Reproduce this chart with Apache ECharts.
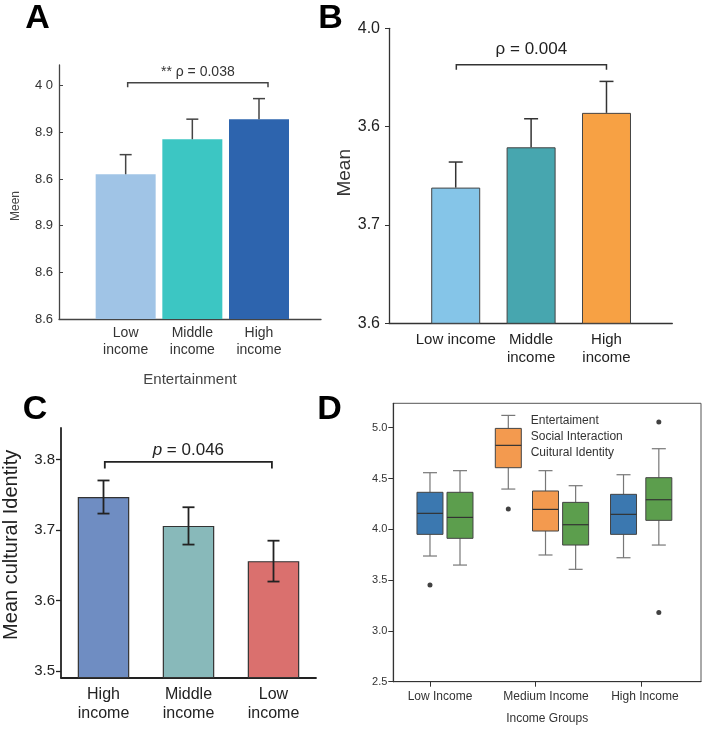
<!DOCTYPE html>
<html>
<head>
<meta charset="utf-8">
<script src="https://cdn.jsdelivr.net/npm/echarts@6/dist/echarts.min.js"></script>
<style>
html,body{margin:0;padding:0;background:#fff}
#c{width:708px;height:730px}
</style>
</head>
<body>
<div id="c"></div>
<script>
// ---------- Panel A ----------
const aCategories = ['Low\nincome', 'Middle\nincome', 'High\nincome'];
const aMeans = [3.81, 3.885, 3.928];
const aErrors = [0.042, 0.043, 0.044];
const aTickValues = [3.5, 3.6, 3.7, 3.8, 3.9, 4.0];
const aTickLabels = ['8.6', '8.6', '8.9', '8.6', '8.9', '4 0'];
const aBracket = [0, 2, 4.006];
const aPText = '** \u03c1 = 0.038';

// ---------- Panel B ----------
const bCategories = ['Low income', 'Middle\nincome', 'High\nincome'];
const bMeans = [3.838, 3.879, 3.914];
const bErrors = [0.026, 0.029, 0.032];
const bTickValues = [3.7, 3.8, 3.9, 4.0];
const bTickLabels = ['3.6', '3.7', '3.6', '4.0'];
const bBracket = [0, 2, 3.963];
const bPText = '\u03c1 = 0.004';

// ---------- Panel C ----------
const cCategories = ['High\nincome', 'Middle\nincome', 'Low\nincome'];
const cMeans = [3.747, 3.706, 3.656];
const cErrors = [0.0235, 0.0265, 0.029];
const cTickValues = [3.5, 3.6, 3.7, 3.8];
const cBracket = [0, 2, 3.797];
const cPValue = '0.046';

// ---------- Panel D ----------
const dGroups = ['Low Income', 'Medium Income', 'High Income'];
const dSeriesNames = ['Entertaiment', 'Social Interaction', 'Cuitural Identity'];
// [group index, min, Q1, median, Q3, max]
const dEntBoxes = [[0, 3.737, 3.950, 4.157, 4.364, 4.557], [2, 3.720, 3.950, 4.147, 4.344, 4.537]];
const dSocBoxes = [[1, 4.396, 4.606, 4.826, 4.993, 5.121], [1, 3.747, 3.983, 4.196, 4.377, 4.577]];
const dCulBoxes = [[0, 3.648, 3.911, 4.117, 4.364, 4.577], [1, 3.606, 3.845, 4.045, 4.265, 4.429], [2, 3.845, 4.088, 4.291, 4.508, 4.793]];
// [box index within series, value]
const dEntOutliers = [[0, 3.451]];
const dSocOutliers = [[0, 4.199]];
const dCulOutliers = [[2, 5.056], [2, 3.182]];
const dTickValues = [2.5, 3.0, 3.5, 4.0, 4.5, 5.0];

// ---------- layout / style ----------
const FONT = 'Liberation Sans, Arial, Helvetica, sans-serif';
const aColors = ['#A0C4E6', '#3CC6C3', '#2D64AE'];
const bColors = ['#85C5E8', '#47A6AF', '#F7A144'];
const cColors = ['#6F8DC2', '#88B9BA', '#DA706E'];
const dColors = ['#3B78B0', '#F39A4F', '#5C9E4D'];
const dOffsets = [[0, -0.169], [-0.259, 0.093], [0.284, 0.378, 0.165]];
const dLabelAt = [0.095, 1.098, 2.033];

function labelFrom(values, labels) {
  return function (v) {
    const i = values.findIndex(t => Math.abs(t - v) < 1e-6);
    return i < 0 ? '' : labels[i];
  };
}

function errRender(capW, twoSided, color, lw) {
  return function (params, api) {
    const x = api.value(0), lo = api.value(1), hi = api.value(2);
    const pLo = api.coord([x, lo]), pHi = api.coord([x, hi]);
    const h = capW / 2;
    const st = { stroke: color, lineWidth: lw };
    const children = [
      { type: 'line', shape: { x1: pLo[0], y1: pLo[1], x2: pHi[0], y2: pHi[1] }, style: st },
      { type: 'line', shape: { x1: pHi[0] - h, y1: pHi[1], x2: pHi[0] + h, y2: pHi[1] }, style: st }
    ];
    if (twoSided) {
      children.push({ type: 'line', shape: { x1: pLo[0] - h, y1: pLo[1], x2: pLo[0] + h, y2: pLo[1] }, style: st });
    }
    return { type: 'group', children: children };
  };
}

// whisker/box drawn per item, caps half the box width
function boxRender(color) {
  return function (params, api) {
    const x = api.value(0);
    const pMin = api.coord([x, api.value(1)]);
    const pQ1 = api.coord([x, api.value(2)]);
    const pMed = api.coord([x, api.value(3)]);
    const pQ3 = api.coord([x, api.value(4)]);
    const pMax = api.coord([x, api.value(5)]);
    const hw = 13, cw = 7;
    const wh = { stroke: '#777', lineWidth: 1.2 };
    return {
      type: 'group',
      children: [
        { type: 'line', shape: { x1: pQ3[0], y1: pQ3[1], x2: pMax[0], y2: pMax[1] }, style: wh },
        { type: 'line', shape: { x1: pMax[0] - cw, y1: pMax[1], x2: pMax[0] + cw, y2: pMax[1] }, style: wh },
        { type: 'line', shape: { x1: pQ1[0], y1: pQ1[1], x2: pMin[0], y2: pMin[1] }, style: wh },
        { type: 'line', shape: { x1: pMin[0] - cw, y1: pMin[1], x2: pMin[0] + cw, y2: pMin[1] }, style: wh },
        { type: 'rect', shape: { x: pQ3[0] - hw, y: pQ3[1], width: 2 * hw, height: pQ1[1] - pQ3[1] },
          style: { fill: color, stroke: '#444', lineWidth: 1 } },
        { type: 'line', shape: { x1: pMed[0] - hw, y1: pMed[1], x2: pMed[0] + hw, y2: pMed[1] }, style: { stroke: '#333', lineWidth: 1.2 } }
      ]
    };
  };
}

function bracketRender(o) {
  return function (params, api) {
    const x1 = api.value(0), x2 = api.value(1), y = api.value(2);
    const p1 = api.coord([x1, y]), p2 = api.coord([x2, y]);
    const a = p1[0] + o.insetL, b = p2[0] + o.insetR, yy = p1[1];
    const textStyle = {
      text: o.text, x: (a + b) / 2, y: yy - o.textGap,
      align: 'center', verticalAlign: 'middle',
      fontSize: o.fontSize, fontFamily: FONT, fill: o.textColor
    };
    if (o.rich) textStyle.rich = o.rich;
    return {
      type: 'group',
      children: [
        { type: 'polyline', shape: { points: [[a, yy + o.drop], [a, yy], [b, yy], [b, yy + o.drop]] },
          style: { stroke: o.color, lineWidth: o.lw, fill: null } },
        { type: 'text', style: textStyle }
      ]
    };
  };
}

const chart = echarts.init(document.getElementById('c'));

const grids = [
  { left: 59, top: 65, width: 262, height: 254 },
  { left: 389, top: 28.3, width: 283.3, height: 295 },
  { left: 60, top: 428, width: 256, height: 249.7 },
  { left: 393.3, top: 403.3, width: 307.7, height: 278.4, show: true, borderColor: '#555', borderWidth: 1 }
];

const option = {
  animation: false,
  backgroundColor: '#fff',
  textStyle: { fontFamily: FONT },
  graphic: [
    { type: 'text', style: { text: 'A', x: 37.5, y: 19, align: 'center', verticalAlign: 'middle', font: 'bold 34px ' + FONT, fill: '#000' } },
    { type: 'text', style: { text: 'B', x: 330.5, y: 19, align: 'center', verticalAlign: 'middle', font: 'bold 34px ' + FONT, fill: '#000' } },
    { type: 'text', style: { text: 'C', x: 35, y: 410, align: 'center', verticalAlign: 'middle', font: 'bold 34px ' + FONT, fill: '#000' } },
    { type: 'text', style: { text: 'D', x: 329.5, y: 410, align: 'center', verticalAlign: 'middle', font: 'bold 34px ' + FONT, fill: '#000' } }
  ],
  legend: {
    data: dSeriesNames, orient: 'vertical', left: 511.7, top: 414.5, padding: 0,
    itemWidth: 14, itemHeight: 12, itemGap: 4.3, selectedMode: false,
    itemStyle: { opacity: 0 }, lineStyle: { opacity: 0 },
    textStyle: { fontSize: 12, color: '#333', fontFamily: FONT }
  },
  grid: grids,
  xAxis: [
    { gridIndex: 0, type: 'value', min: -1, max: 2.93,
      axisLine: { show: true, onZero: false, lineStyle: { color: '#444', width: 1.3 } },
      axisTick: { show: false }, splitLine: { show: false },
      axisLabel: { customValues: [0, 1, 2], formatter: v => aCategories[Math.round(v)], fontSize: 14, color: '#333', lineHeight: 17, margin: 6 },
      name: 'Entertainment', nameLocation: 'middle', nameGap: 53.5,
      nameTextStyle: { fontSize: 15, color: '#444' } },
    { gridIndex: 1, type: 'value', min: -0.885, max: 2.873,
      axisLine: { show: true, onZero: false, lineStyle: { color: '#333', width: 1.3 } },
      axisTick: { show: false }, splitLine: { show: false },
      axisLabel: { customValues: [0, 1, 2], formatter: v => bCategories[Math.round(v)], fontSize: 15, color: '#222', lineHeight: 17.5, margin: 8 } },
    { gridIndex: 2, type: 'category', data: cCategories, boundaryGap: true,
      axisLine: { show: true, onZero: false, lineStyle: { color: '#222', width: 1.8 } },
      axisTick: { show: false },
      axisLabel: { fontSize: 16, color: '#222', lineHeight: 18.5, margin: 8, interval: 0 } },
    { gridIndex: 3, type: 'value', min: -0.347, max: 2.564, splitLine: { show: false },
      axisLine: { show: true, onZero: false, lineStyle: { color: '#333', width: 1.2 } },
      axisTick: { show: true, customValues: [0, 1, 2], length: 5, lineStyle: { color: '#333' } },
      axisLabel: { customValues: dLabelAt, formatter: v => dGroups[Math.round(v)], fontSize: 12, color: '#333', margin: 9 },
      name: 'Income Groups', nameLocation: 'middle', nameGap: 30.6,
      nameTextStyle: { fontSize: 12, color: '#333' } }
  ],
  yAxis: [
    { gridIndex: 0, type: 'value', min: 3.5, max: 4.044,
      axisLine: { show: true, onZero: false, lineStyle: { color: '#444', width: 1.3 } },
      axisTick: { show: true, inside: true, length: 4, customValues: aTickValues, lineStyle: { color: '#444' } },
      axisLabel: { customValues: aTickValues, formatter: labelFrom(aTickValues, aTickLabels), fontSize: 13, color: '#333', margin: 6 },
      splitLine: { show: false },
      name: 'Meen', nameLocation: 'middle', nameRotate: 90, nameGap: 37,
      nameTextStyle: { fontSize: 12, color: '#444', padding: [0, 28, 0, 0] } },
    { gridIndex: 1, type: 'value', min: 3.7, max: 4.0,
      axisLine: { show: true, onZero: false, lineStyle: { color: '#333', width: 1.3 } },
      axisTick: { show: true, length: 4, customValues: bTickValues, lineStyle: { color: '#333' } },
      axisLabel: { customValues: bTickValues, formatter: labelFrom(bTickValues, bTickLabels), fontSize: 16, color: '#222', margin: 9 },
      splitLine: { show: false },
      name: 'Mean', nameLocation: 'middle', nameRotate: 90, nameGap: 35,
      nameTextStyle: { fontSize: 19, color: '#333', padding: [0, 0, 0, 6] } },
    { gridIndex: 2, type: 'value', min: 3.4905, max: 3.845,
      axisLine: { show: true, onZero: false, lineStyle: { color: '#222', width: 1.8 } },
      axisTick: { show: true, length: 5, customValues: cTickValues, lineStyle: { color: '#222', width: 1.3 } },
      axisLabel: { customValues: cTickValues, formatter: v => v.toFixed(1), fontSize: 15, color: '#222', margin: 6 },
      splitLine: { show: false },
      name: 'Mean cultural Identity', nameLocation: 'middle', nameRotate: 90, nameGap: 40,
      nameTextStyle: { fontSize: 20, color: '#222', padding: [0, 0, 0, 16] } },
    { gridIndex: 3, type: 'value', min: 2.5, max: 5.24,
      axisLine: { show: true, onZero: false, lineStyle: { color: '#333', width: 1.2 } },
      axisTick: { show: true, length: 5, customValues: dTickValues, lineStyle: { color: '#333' } },
      axisLabel: { customValues: dTickValues, formatter: v => v.toFixed(1), fontSize: 11, color: '#333', margin: 6 },
      splitLine: { show: false } }
  ],
  series: []
};

// Panel A
option.series.push({
  type: 'bar', xAxisIndex: 0, yAxisIndex: 0, barWidth: 60,
  data: aMeans.map((m, i) => ({ value: [i, m], itemStyle: { color: aColors[i] } }))
});
option.series.push({
  type: 'custom', xAxisIndex: 0, yAxisIndex: 0, z: 5,
  renderItem: errRender(12, false, '#444', 1.5),
  data: aMeans.map((m, i) => [i, m, m + aErrors[i]])
});
option.series.push({
  type: 'custom', xAxisIndex: 0, yAxisIndex: 0, z: 5,
  renderItem: bracketRender({ insetL: 2, insetR: 9, drop: 4.5, lw: 1.5, color: '#444', text: aPText, textGap: 10.4, fontSize: 14, textColor: '#333' }),
  data: [aBracket]
});

// Panel B
option.series.push({
  type: 'bar', xAxisIndex: 1, yAxisIndex: 1, barWidth: 49,
  data: bMeans.map((m, i) => ({ value: [i, m], itemStyle: { color: bColors[i], borderColor: '#444', borderWidth: 1 } }))
});
option.series.push({
  type: 'custom', xAxisIndex: 1, yAxisIndex: 1, z: 5,
  renderItem: errRender(14, false, '#333', 1.5),
  data: bMeans.map((m, i) => [i, m, m + bErrors[i]])
});
option.series.push({
  type: 'custom', xAxisIndex: 1, yAxisIndex: 1, z: 5,
  renderItem: bracketRender({ insetL: 0.6, insetR: 0, drop: 5, lw: 1.5, color: '#333', text: bPText, textGap: 15, fontSize: 17, textColor: '#222' }),
  data: [bBracket]
});

// Panel C
option.series.push({
  type: 'bar', xAxisIndex: 2, yAxisIndex: 2, barWidth: 51.5,
  data: cMeans.map((m, i) => ({ value: m, itemStyle: { color: cColors[i], borderColor: '#333', borderWidth: 1.2 } }))
});
option.series.push({
  type: 'custom', xAxisIndex: 2, yAxisIndex: 2, z: 5,
  renderItem: errRender(12, true, '#222', 1.8),
  data: cMeans.map((m, i) => [i, m - cErrors[i], m + cErrors[i]])
});
option.series.push({
  type: 'custom', xAxisIndex: 2, yAxisIndex: 2, z: 5,
  renderItem: bracketRender({ insetL: 1.3, insetR: -1.6, drop: 6.6, lw: 1.8, color: '#222',
    text: '{i|p} = ' + cPValue, rich: { i: { fontStyle: 'italic', fontSize: 17, fontFamily: FONT, fill: '#222' } },
    textGap: 11.7, fontSize: 17, textColor: '#222' }),
  data: [cBracket]
});

// Panel D
const dBoxSets = [dEntBoxes, dSocBoxes, dCulBoxes];
const dOutSets = [dEntOutliers, dSocOutliers, dCulOutliers];
dBoxSets.forEach((boxes, s) => {
  option.series.push({
    name: dSeriesNames[s], type: 'custom', xAxisIndex: 3, yAxisIndex: 3,
    itemStyle: { color: dColors[s] },
    renderItem: boxRender(dColors[s]),
    encode: { x: 0, y: [1, 2, 3, 4, 5] },
    data: boxes.map((b, i) => [b[0] + dOffsets[s][i]].concat(b.slice(1)))
  });
});
dOutSets.forEach((outs, s) => {
  option.series.push({
    type: 'scatter', xAxisIndex: 3, yAxisIndex: 3, symbolSize: 5,
    itemStyle: { color: '#111' },
    data: outs.map(o => [dBoxSets[s][o[0]][0] + dOffsets[s][o[0]], o[1]])
  });
});

chart.setOption(option);
</script>
</body>
</html>
